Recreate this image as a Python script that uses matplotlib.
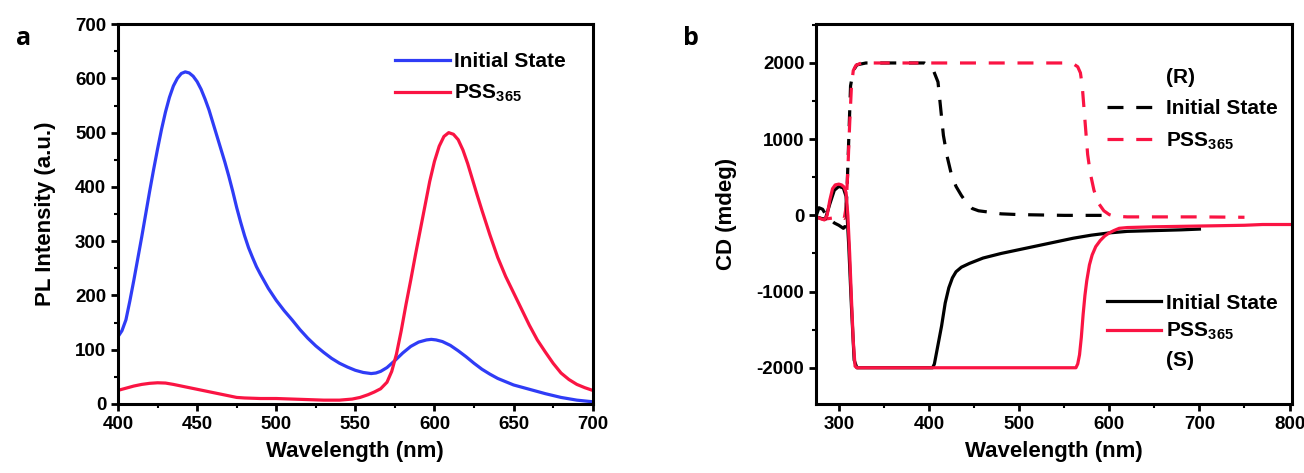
import numpy as np
import matplotlib.pyplot as plt
from matplotlib.lines import Line2D
from matplotlib.ticker import MultipleLocator

plt.rcParams['font.family'] = ['Liberation Sans', 'DejaVu Sans']
plt.rcParams['font.weight'] = 'bold'
plt.rcParams['axes.labelweight'] = 'bold'
plt.rcParams['axes.unicode_minus'] = False
plt.rcParams['mathtext.fontset'] = 'custom'
plt.rcParams['mathtext.rm'] = 'Liberation Sans:bold'
plt.rcParams['mathtext.default'] = 'rm'

BLUE = '#2f3cf6'
RED = '#fa1443'

# ---- panel a: PL spectra ----
pl_wl_init = [400, 402.5, 405, 407.5, 410, 412.5, 415, 417.5, 420, 422.5, 425, 427.5, 430,
              432.5, 435, 437.5, 440, 442.5, 445, 447.5, 450, 452.5, 455, 457.5, 460, 462.5,
              465, 467.5, 470, 472.5, 475, 477.5, 480, 482.5, 485, 487.5, 490, 495, 500, 505,
              510, 515, 520, 525, 530, 535, 540, 545, 550, 555, 560, 563, 566, 570, 575, 580,
              585, 590, 595, 598, 601, 605, 610, 615, 620, 625, 630, 635, 640, 645, 650, 660,
              670, 680, 690, 700]
pl_initial = [124, 135, 155, 190, 228, 268, 308, 350, 392, 432, 470, 506, 538,
              565, 586, 600, 609, 612, 610, 604, 594, 580, 562, 542, 518, 494,
              470, 446, 420, 392, 362, 335, 310, 288, 270, 253, 239, 213, 191, 172,
              155, 137, 121, 107, 95, 84, 75, 68, 62, 58, 56, 57, 60, 67, 80, 94,
              106, 114, 118, 119, 118, 115, 108, 98, 87, 75, 64, 55, 47, 41, 35, 27,
              19, 12, 7, 4]

pl_wl_pss = [400, 405, 410, 415, 420, 425, 430, 435, 440, 445, 450, 455, 460, 465, 470,
             475, 480, 490, 500, 510, 520, 530, 540, 548, 553, 558, 562, 566, 570, 573,
             576, 579, 582, 585, 588, 591, 594, 597, 600, 603, 606, 609, 612, 615, 618,
             621, 624, 627, 630, 635, 640, 645, 650, 655, 660, 665, 670, 675, 680, 685,
             690, 695, 700]
pl_pss = [25, 29, 33, 36, 38, 39, 38.5, 36, 33, 30, 27, 24, 21, 18, 15,
          12, 11, 10, 10, 9, 8, 7, 7, 9, 12, 17, 22, 28, 40, 60,
          92, 135, 183, 228, 275, 320, 365, 410, 447, 475, 493, 500, 497, 487, 468,
          443, 414, 385, 357, 312, 270, 235, 205, 175, 145, 118, 96, 75, 57, 45,
          36, 30, 25]

# ---- panel b: CD spectra ----
r_init_wl = [275, 278, 282, 286, 290, 295, 300, 305, 307, 309, 311, 313, 316, 320, 330,
             360, 395, 400, 405, 410, 413, 416, 420, 425, 430, 436, 442, 448, 455, 465,
             480, 500, 550, 600]
r_init = [0, 100, 80, 0, -50, -100, -130, -170, -150, 300, 1000, 1700, 1900, 1975, 2000,
          2000, 2000, 1960, 1900, 1750, 1400, 1050, 780, 530, 380, 260, 160, 90, 60, 45,
          20, 10, 0, 0]

r_pss_wl = [275, 283, 290, 296, 303, 306, 308, 310, 312, 314, 316, 319, 325, 400, 500,
            555, 560, 565, 568, 570, 572, 574, 576, 579, 583, 588, 594, 600, 605, 620,
            700, 750]
r_pss = [-20, -50, -40, -30, -20, -40, 100, 600, 1200, 1700, 1900, 1970, 2000, 2000, 2000,
         2000, 1990, 1950, 1870, 1700, 1400, 1100, 800, 550, 330, 160, 60, 10, -10, -20,
         -20, -25]

s_init_wl = [275, 280, 285, 290, 295, 300, 305, 308, 311, 314, 317, 320, 404, 406, 410,
             414, 418, 422, 426, 430, 436, 445, 460, 480, 500, 520, 540, 560, 580, 600,
             620, 650, 680, 700]
s_init = [-20, -40, -50, 150, 330, 380, 360, 250, -400, -1200, -1900, -2000, -2000, -1950, -1700,
          -1450, -1150, -950, -820, -740, -680, -630, -560, -500, -450, -400, -350, -300, -260, -230,
          -210, -200, -190, -180]

s_pss_wl = [275, 280, 284, 287, 290, 293, 296, 300, 303, 306, 308, 310, 312, 314, 316,
            318, 320, 563, 565, 567, 569, 571, 573, 575, 578, 581, 585, 590, 595, 600,
            605, 611, 620, 650, 700, 750, 770, 800]
s_pss = [-20, -45, -60, 0, 200, 350, 400, 410, 400, 370, 300, 0, -500, -1100, -1650,
         -1980, -2000, -2000, -1950, -1830, -1600, -1300, -1050, -860, -650, -520, -410, -330, -270, -230,
         -200, -170, -160, -150, -140, -130, -120, -120]

fig = plt.figure(figsize=(13.04, 4.73), dpi=100)
ax1 = fig.add_axes([0.0905, 0.146, 0.364, 0.803])
ax2 = fig.add_axes([0.626, 0.146, 0.365, 0.803])


def style_axis(ax):
    for sp in ax.spines.values():
        sp.set_linewidth(2.2)
    ax.tick_params(which='major', direction='out', length=5, width=2,
                   labelsize=13.5, top=False, right=False)
    ax.tick_params(which='minor', direction='out', length=3, width=1.5,
                   top=False, right=False)


# panel a
ax1.plot(pl_wl_init, pl_initial, color=BLUE, lw=2.3, label='Initial State')
ax1.plot(pl_wl_pss, pl_pss, color=RED, lw=2.3, label='PSS$_{365}$')
ax1.set_xlim(400, 700)
ax1.set_ylim(0, 700)
ax1.xaxis.set_major_locator(MultipleLocator(50))
ax1.xaxis.set_minor_locator(MultipleLocator(25))
ax1.yaxis.set_major_locator(MultipleLocator(100))
ax1.yaxis.set_minor_locator(MultipleLocator(50))
style_axis(ax1)
ax1.set_xlabel('Wavelength (nm)', fontsize=16, labelpad=6)
ax1.set_ylabel('PL Intensity (a.u.)', fontsize=16, labelpad=14)
ax1.legend(loc='upper left', bbox_to_anchor=(0.545, 0.975), frameon=False,
           fontsize=15, handlelength=2.6, handletextpad=0.2, labelspacing=0.55)
fig.text(0.012, 0.905, 'a', fontsize=18, fontweight='bold', family='Open Sans')

# panel b
dash = (0, (5, 4))
l1, = ax2.plot(r_init_wl, r_init, color='black', lw=2.3, linestyle=dash)
l2, = ax2.plot(r_pss_wl, r_pss, color=RED, lw=2.3, linestyle=dash)
l3, = ax2.plot(s_init_wl, s_init, color='black', lw=2.3)
l4, = ax2.plot(s_pss_wl, s_pss, color=RED, lw=2.3)
ax2.set_xlim(275, 803)
ax2.set_ylim(-2475, 2510)
ax2.xaxis.set_major_locator(MultipleLocator(100))
ax2.xaxis.set_minor_locator(MultipleLocator(50))
ax2.yaxis.set_major_locator(MultipleLocator(1000))
ax2.yaxis.set_minor_locator(MultipleLocator(500))
style_axis(ax2)
ax2.set_xlabel('Wavelength (nm)', fontsize=16, labelpad=6)
ax2.set_ylabel('CD (mdeg)', fontsize=16, labelpad=14)

blank = Line2D([], [], color='none')
leg_r = ax2.legend([blank, l1, l2], ['(R)', 'Initial State', 'PSS$_{365}$'],
                   loc='upper left', bbox_to_anchor=(0.572, 0.935), frameon=False,
                   fontsize=15, handlelength=2.6, handletextpad=0.2, labelspacing=0.6)
ax2.add_artist(leg_r)
ax2.legend([l3, l4, blank], ['Initial State', 'PSS$_{365}$', '(S)'],
           loc='upper left', bbox_to_anchor=(0.572, 0.34), frameon=False,
           fontsize=15, handlelength=2.6, handletextpad=0.2, labelspacing=0.4)
fig.text(0.524, 0.905, 'b', fontsize=18, fontweight='bold', family='Open Sans')

fig.savefig('out.png', dpi=100)
